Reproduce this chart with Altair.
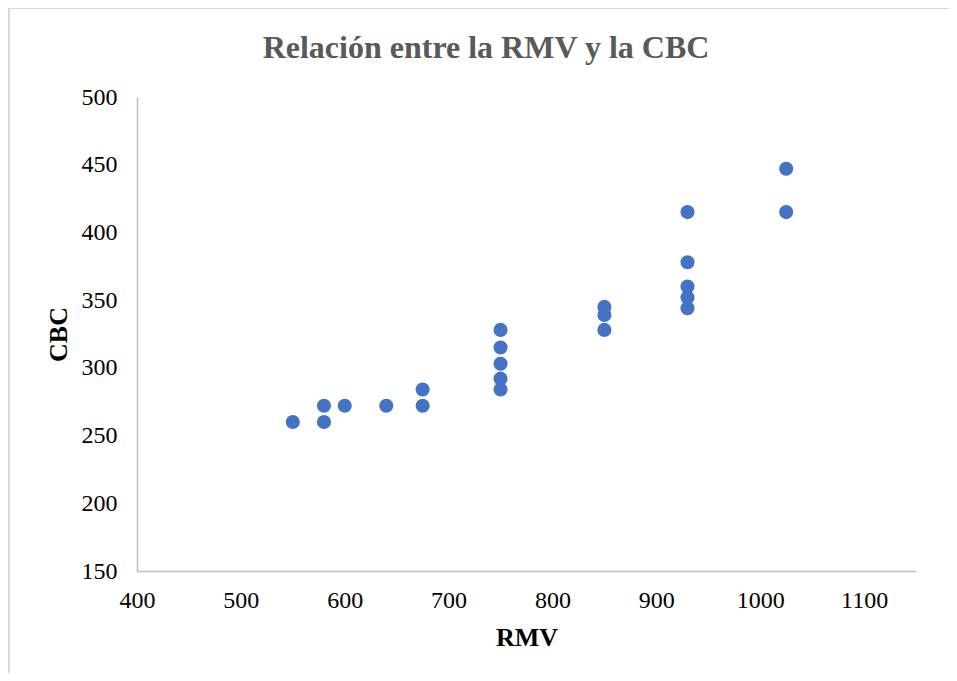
import altair as alt
import pandas as pd

rmv = [550, 580, 580, 600, 640, 675, 675, 750, 750, 750, 750, 750,
       850, 850, 850, 930, 930, 930, 930, 930, 1025, 1025]
cbc = [260, 260, 272, 272, 272, 272, 284, 284, 292, 303, 315, 328,
       328, 339, 345, 344, 352, 360, 378, 415, 415, 447]
x_ticks = [400, 500, 600, 700, 800, 900, 1000, 1100]
y_ticks = [150, 200, 250, 300, 350, 400, 450, 500]
title_text = "Relación entre la RMV y la CBC"

df = pd.DataFrame({"RMV": rmv, "CBC": cbc})
FONT = "Liberation Serif"

points = alt.Chart(df).mark_circle(size=200, color="#4472C4", opacity=1).encode(
    x=alt.X("RMV:Q",
            scale=alt.Scale(domain=[400, 1150], nice=False, zero=False),
            axis=alt.Axis(values=x_ticks, title="RMV", grid=False, ticks=False, format="d",
                          labelPadding=17, labelFontSize=24, labelFont=FONT,
                          labelColor="#000000", domainColor="#BFBFBF", domainWidth=1.5,
                          titleFont=FONT, titleFontSize=26, titleFontWeight="bold",
                          titleColor="#000000", titleY=66, titleBaseline="middle",
                          labelFlush=False)),
    y=alt.Y("CBC:Q",
            scale=alt.Scale(domain=[150, 500], nice=False, zero=False),
            axis=alt.Axis(values=y_ticks, title="CBC", grid=False, ticks=False, format="d",
                          labelPadding=20, labelFontSize=24, labelFont=FONT,
                          labelColor="#000000", domainColor="#BFBFBF", domainWidth=1.5,
                          titleFont=FONT, titleFontSize=26, titleFontWeight="bold",
                          titleColor="#000000", titleX=-79, titleBaseline="middle",
                          labelFlush=False)),
)

one_row = alt.Data(values=[{"a": 1}])
title_mark = alt.Chart(one_row).mark_text(
    font=FONT, fontSize=32, fontWeight="bold", color="#595959",
    align="center", baseline="alphabetic", clip=False
).encode(x=alt.value(349), y=alt.value(-39), text=alt.value(title_text))

top_line = alt.Chart(one_row).mark_rule(color="#D9D9D9", strokeWidth=2, clip=False).encode(
    x=alt.value(-128), x2=alt.value(900), y=alt.value(-89)
)
left_line = alt.Chart(one_row).mark_rule(color="#D9D9D9", strokeWidth=2, clip=False).encode(
    x=alt.value(-128), y=alt.value(-89), y2=alt.value(700)
)

chart = alt.layer(points, title_mark, top_line, left_line).properties(
    width=779, height=474,
    autosize=alt.AutoSizeParams(type="none"),
    padding={"left": 129, "top": 89, "right": 33, "bottom": 102},
).configure(background="white", view=alt.ViewConfig(stroke=None))

chart.save("out.html", embed_options={"renderer": "svg", "actions": False})
